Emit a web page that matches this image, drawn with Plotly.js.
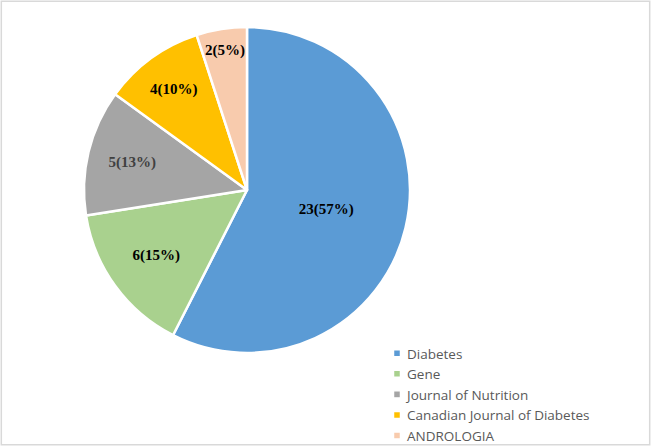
<!DOCTYPE html>
<html>
<head>
<meta charset="utf-8">
<script src="https://cdn.plot.ly/plotly-3.0.1.min.js"></script>
<style>
html,body{margin:0;padding:0;background:#fff;}
#chart{width:651px;height:446px;}
</style>
</head>
<body>
<div id="chart"></div>
<script>
const labels = ["Diabetes", "Gene", "Journal of Nutrition", "Canadian Journal of Diabetes", "ANDROLOGIA"];
const values = [23, 6, 5, 4, 2];
const pctLabels = ["57%", "15%", "13%", "10%", "5%"];
const colors = ["#5b9bd5", "#a9d18e", "#a5a5a5", "#ffc000", "#f8cbad"];
const textColors = ["#000000", "#000000", "#404040", "#000000", "#000000"];

const W = 651, H = 446;
const cx = 247, cy = 190, r = 163;

const trace = {
  type: "pie",
  labels: labels,
  values: values,
  text: pctLabels,
  sort: false,
  direction: "clockwise",
  rotation: 0,
  marker: {colors: colors, line: {color: "#ffffff", width: 2.5}},
  texttemplate: "<b>%{value}(%{text})</b>",
  textposition: "inside",
  insidetextorientation: "horizontal",
  insidetextfont: {family: "Liberation Serif, Times New Roman, serif", size: 15, color: textColors},
  hoverinfo: "label+value",
  domain: {x: [(cx - r) / W, (cx + r) / W], y: [1 - (cy + r) / H, 1 - (cy - r) / H]}
};

const layout = {
  width: W, height: H,
  margin: {l: 0, r: 0, t: 0, b: 0},
  paper_bgcolor: "#ffffff",
  showlegend: true,
  legend: {
    x: 367 / W, y: 0, xanchor: "left", yanchor: "bottom",
    font: {family: "Open Sans, sans-serif", size: 13.5, color: "#595959"},
    bgcolor: "rgba(0,0,0,0)", traceorder: "normal", tracegroupgap: 0
  },
  shapes: [{type: "rect", xref: "paper", yref: "paper", x0: 0.002, x1: 0.998, y0: 0.003, y1: 0.997,
            line: {color: "#d9d9d9", width: 1.5}, fillcolor: "rgba(0,0,0,0)"}]
};

Plotly.newPlot("chart", [trace], layout, {displayModeBar: false, staticPlot: true}).then(function () {
  document.querySelectorAll(".legendpoints path").forEach(function (p) {
    p.setAttribute("transform", "translate(30,0) scale(0.58)");
  });
  // nudge legend down to match the reference (avoids automargin push)
  const lg = document.querySelector(".legend");
  if (lg) {
    const t = lg.getAttribute("transform") || "";
    const m = t.match(/translate\(([-\d.]+)[ ,]+([-\d.]+)\)/);
    if (m) lg.setAttribute("transform", "translate(" + m[1] + "," + (parseFloat(m[2]) + 5) + ")");
  }
});
</script>
</body>
</html>
